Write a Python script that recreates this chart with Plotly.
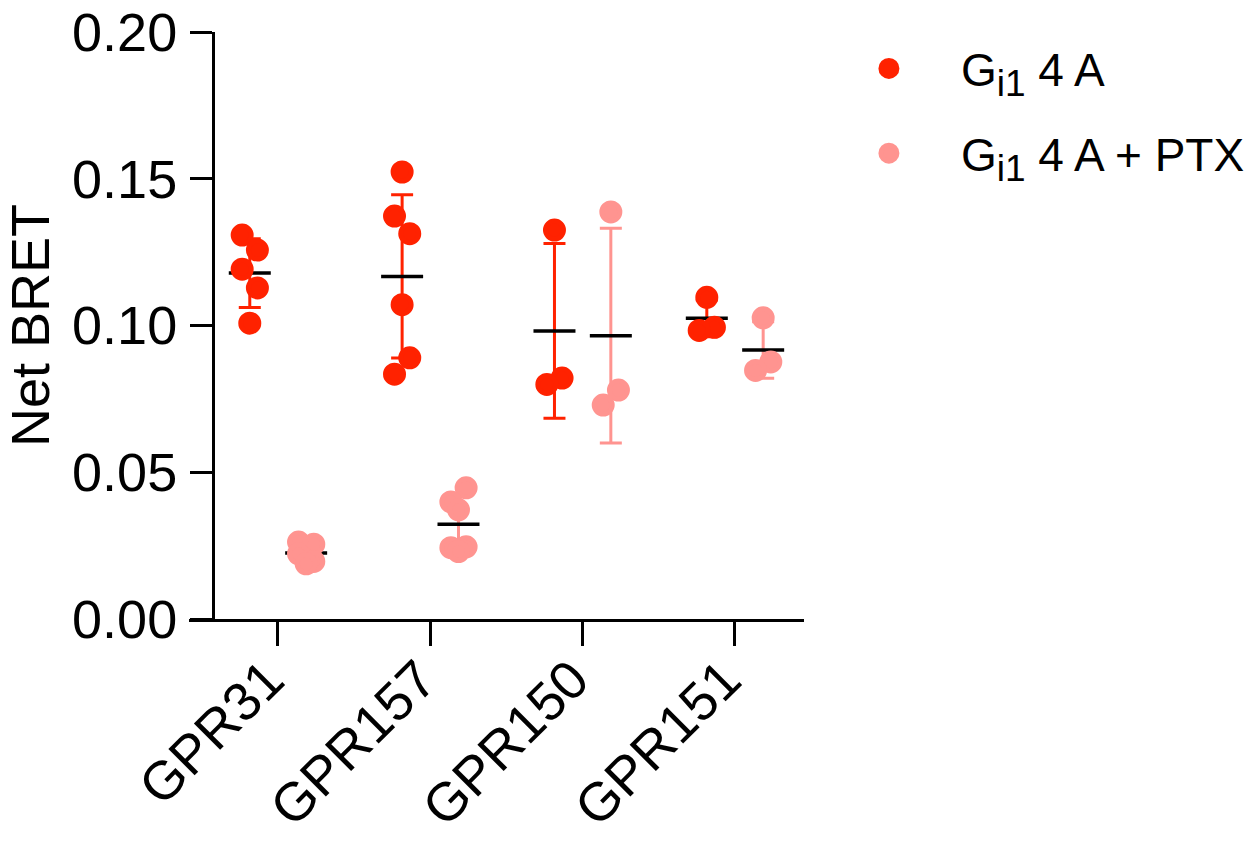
import numpy as np
import plotly.graph_objects as go

# ---------------- data ----------------
categories = ["GPR31", "GPR157", "GPR150", "GPR151"]
SUB = "<sub><span style='font-size:37px'>i1</span></sub>"
series_names = [f"G{SUB} 4 A", f"G{SUB} 4 A + PTX"]

gi1 = [
    [0.1308, 0.1257, 0.1192, 0.1128, 0.1008],            # GPR31
    [0.1523, 0.1373, 0.1313, 0.1071, 0.0890, 0.0834],    # GPR157
    [0.1325, 0.0821, 0.0799],                            # GPR150
    [0.1096, 0.0994, 0.0983],                            # GPR151
]
gi1_ptx = [
    [0.0262, 0.0255, 0.0222, 0.0196, 0.0188],            # GPR31
    [0.0447, 0.0399, 0.0372, 0.0246, 0.0243, 0.0230],    # GPR157
    [0.1387, 0.0780, 0.0729],                            # GPR150
    [0.1026, 0.0876, 0.0847],                            # GPR151
]

# ---------------- style / placement ----------------
group_offset = 0.185          # series offset within a category (axis units)
jit = 0.05                    # horizontal jitter step of overlapping dots
jitter_gi1 = [
    [-1, 1, -1, 1, 0],
    [0, -1, 1, 0, 1, -1],
    [0, 1, -1],
    [0, 1, -1],
]
jitter_ptx = [
    [-1, 1, -1, 1, 0],
    [1, -1, 0, 1, -1, 0],
    [0, 1, -1],
    [0, 1, -1],
]
colors = ["#FF2200", "#FF9490"]
FONT = "Liberation Sans, Arial, sans-serif"

fig = go.Figure()

for s, (data, jitter, color, name) in enumerate(
        zip([gi1, gi1_ptx], [jitter_gi1, jitter_ptx], colors, series_names)):
    off = -group_offset if s == 0 else group_offset
    # mean +/- SD
    xs_c, means, sds = [], [], []
    for i, vals in enumerate(data):
        v = np.array(vals)
        xs_c.append(i + off)
        means.append(v.mean())
        sds.append(v.std(ddof=1))
    fig.add_trace(go.Scatter(
        x=xs_c, y=means, mode="markers", showlegend=False, hoverinfo="skip",
        marker=dict(symbol="line-ew", size=30, color="black",
                    line=dict(width=3.5, color="black")),
        error_y=dict(type="data", array=sds, visible=True, color=color,
                     thickness=3, width=11),
    ))
    # individual points
    xs, ys = [], []
    for i, vals in enumerate(data):
        for v, j in zip(vals, jitter[i]):
            xs.append(i + off + j * jit)
            ys.append(v)
    fig.add_trace(go.Scatter(
        x=xs, y=ys, mode="markers", name=name, legendgroup=f"g{s}",
        marker=dict(size=18, color=color, line=dict(width=5, color=color)),
    ))

fig.update_layout(
    width=1260, height=847,
    margin=dict(l=189, r=456, t=32, b=228, autoexpand=False),
    paper_bgcolor="white", plot_bgcolor="white",
    font=dict(family=FONT, color="black", size=54),
    showlegend=True,
    legend=dict(x=1.021, y=1.0, xanchor="left", yanchor="top",
                font=dict(size=46, family=FONT), tracegroupgap=22,
                itemwidth=134, bgcolor="rgba(0,0,0,0)"),
    xaxis=dict(
        range=[-0.584, 3.453], tickvals=[0, 1, 2, 3], ticktext=categories,
        showline=True, linewidth=3, linecolor="black",
        ticks="outside", ticklen=24, tickwidth=3, tickcolor="black",
        tickangle=-45, tickfont=dict(size=54), automargin=False,
        ticklabelshift=-10, ticklabelstandoff=-20, ticklabeloverflow="allow",
        showgrid=False, zeroline=False,
    ),
    yaxis=dict(
        range=[0, 0.2], tickvals=[0, 0.05, 0.10, 0.15, 0.20],
        tickformat=".2f", anchor="free", position=0.039,
        showline=True, linewidth=3, linecolor="black",
        ticks="outside", ticklen=22, tickwidth=3, tickcolor="black",
        tickfont=dict(size=54), ticklabelstandoff=2, automargin=False,
        ticklabeloverflow="allow",
        showgrid=False, zeroline=False,
        title=dict(text="Net BRET", font=dict(size=54), standoff=15),
    ),
)

fig.write_html("out.html",
               config={"displayModeBar": False},
               post_script="document.body.style.margin='0';")
